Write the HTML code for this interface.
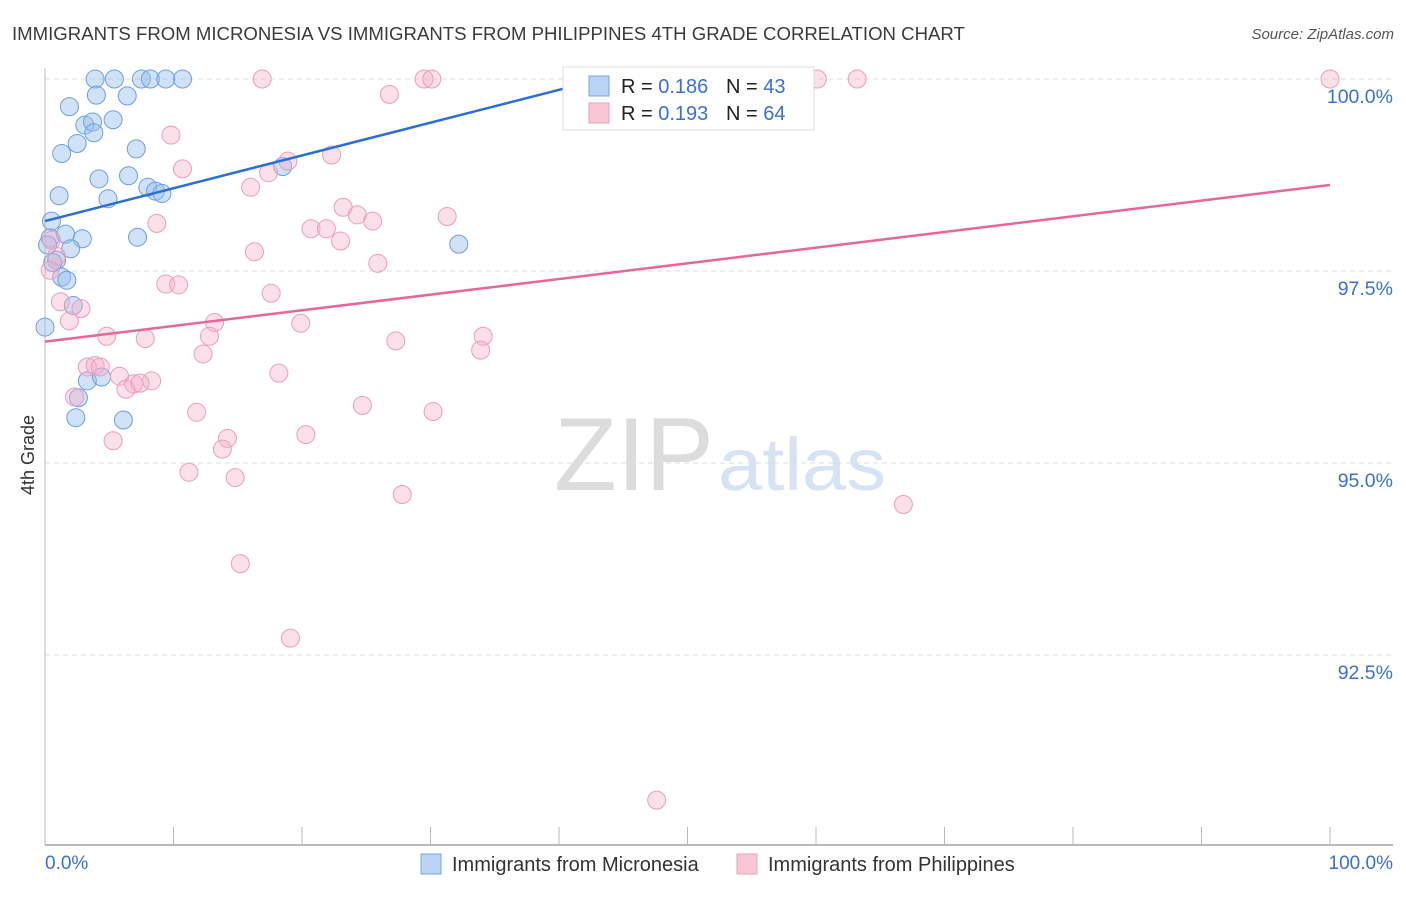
<!DOCTYPE html>
<html><head><meta charset="utf-8">
<style>
body{margin:0;background:#fff;font-family:"Liberation Sans",sans-serif;}
svg text{font-family:"Liberation Sans",sans-serif;}
</style></head>
<body>
<svg id="chart" width="1406" height="892" viewBox="0 0 1406 892" xmlns="http://www.w3.org/2000/svg">
<text x="12" y="40" font-size="18.6" fill="#3a3a3a">IMMIGRANTS FROM MICRONESIA VS IMMIGRANTS FROM PHILIPPINES 4TH GRADE CORRELATION CHART</text>
<text x="1394" y="39" font-size="15" fill="#555" text-anchor="end" font-style="italic">Source: ZipAtlas.com</text>
<g>
<text x="714" y="490" font-size="104" fill="#dcdcdc" text-anchor="end" font-family="Liberation Serif, serif" textLength="160" lengthAdjust="spacingAndGlyphs">ZIP</text>
<text x="718" y="490" font-size="74" fill="#d5e3f5" textLength="168" lengthAdjust="spacingAndGlyphs">atlas</text>
</g>
<g id="grid"></g>
<g id="axes"></g>
<g id="pts"></g>
<g id="trends"></g>
<text transform="translate(34,455) rotate(-90)" font-size="18" fill="#333" text-anchor="middle">4th Grade</text>
<g>
<rect x="563" y="67" width="251" height="63" fill="#fff" stroke="#ddd"/>
<rect x="589" y="76" width="20" height="20" fill="#b8d3f3" stroke="#7aa6e0"/>
<rect x="589" y="103" width="20" height="20" fill="#f9c6d6" stroke="#eaa0bb"/>
<text x="621" y="93" font-size="20" fill="#222">R = <tspan fill="#3a70d6">0.186</tspan></text>
<text x="726" y="93" font-size="20" fill="#222">N = <tspan fill="#3a70d6">43</tspan></text>
<text x="621" y="120" font-size="20" fill="#222">R = <tspan fill="#3a70d6">0.193</tspan></text>
<text x="726" y="120" font-size="20" fill="#222">N = <tspan fill="#3a70d6">64</tspan></text>
</g>
<g>
<rect x="421" y="854" width="20" height="20" fill="#b8d3f3" stroke="#7aa6e0"/>
<text x="452" y="871" font-size="20" fill="#333">Immigrants from Micronesia</text>
<rect x="737" y="854" width="20" height="20" fill="#f9c6d6" stroke="#eaa0bb"/>
<text x="768" y="871" font-size="20" fill="#333">Immigrants from Philippines</text>
</g>
</svg>
<script>
const blueX=[3.9,5.4,7.5,8.2,9.4,10.7,4.0,6.4,1.9,3.1,3.7,5.3,3.8,2.5,1.3,7.1,4.2,6.5,8.0,8.6,9.1,1.1,4.9,0.5,0.4,1.6,2.9,7.2,2.0,0.9,1.3,1.7,2.2,0.0,3.3,4.4,2.6,2.4,6.1,18.5,32.2,0.6,0.2];
const blueY=[100,100,100,100,100,100,99.79,99.78,99.64,99.40,99.44,99.47,99.30,99.16,99.03,99.09,98.70,98.74,98.59,98.54,98.51,98.48,98.44,98.15,97.93,97.98,97.92,97.94,97.79,97.64,97.42,97.38,97.05,96.77,96.07,96.12,95.85,95.59,95.56,98.86,97.85,97.61,97.84];
const pinkX=[16.9,29.5,30.1,60.1,63.2,100,26.8,9.8,18.9,22.3,10.7,17.4,16.0,31.3,8.7,23.2,24.3,25.5,20.7,21.9,23.0,16.3,25.9,0.5,0.9,0.4,9.4,10.4,17.6,1.2,1.9,2.8,13.2,19.9,4.8,7.8,12.8,34.1,12.3,27.3,33.9,3.3,3.9,4.3,5.8,6.9,8.3,18.2,6.3,7.4,2.3,11.8,24.7,30.2,5.3,14.2,20.3,13.8,11.2,14.8,27.8,66.8,15.2,19.1,47.6];
const pinkY=[100,100,100,100,100,100,99.80,99.27,98.93,99.01,98.83,98.78,98.59,98.21,98.12,98.33,98.23,98.15,98.05,98.05,97.89,97.75,97.60,97.90,97.69,97.51,97.33,97.32,97.21,97.10,96.85,97.01,96.83,96.82,96.65,96.62,96.65,96.65,96.42,96.59,96.47,96.25,96.27,96.25,96.13,96.03,96.07,96.17,95.96,96.04,95.86,95.66,95.75,95.67,95.29,95.32,95.37,95.18,94.88,94.81,94.59,94.46,93.69,92.72,90.61];
const blueTrend=[[0,98.15],[40.5,99.88]];
const pinkTrend=[[0,96.58],[100,98.62]];
const yTicks=[100,97.5,95,92.5];
const yTickLabels=["100.0%","97.5%","95.0%","92.5%"];
const xTicks=[0,10,20,30,40,50,60,70,80,90,100];
const xTickLabels=["0.0%","100.0%"];

const NS="http://www.w3.org/2000/svg";
const X=v=>45+v*12.85;
const Y=v=>79+(100-v)*76.8;
function mk(tag,attrs,parent){const e=document.createElementNS(NS,tag);for(const k in attrs)e.setAttribute(k,attrs[k]);parent.appendChild(e);return e;}
const grid=document.getElementById('grid'),axes=document.getElementById('axes'),pts=document.getElementById('pts'),tr=document.getElementById('trends');
yTicks.forEach((t,i)=>{
 const l=mk('line',{x1:45,x2:1393,y1:Y(t),y2:Y(t),stroke:'#ddd','stroke-dasharray':'5,4'},grid);
 
 
 const tx=mk('text',{x:1393,y:Y(t)+24,'font-size':19.5,fill:'#3a70d6','text-anchor':'end'},axes);
 tx.textContent=yTickLabels[i];
 
 
});
const yl=mk('line',{x1:45,x2:45,y1:68,y2:845,stroke:'#bbb'},axes);


const xl=mk('line',{x1:45,x2:1393,y1:845,y2:845,stroke:'#bbb','stroke-width':2},axes);


xTicks.forEach(t=>{
 const l=mk('line',{x1:X(t),x2:X(t),y1:827,y2:845,stroke:'#bbb'},axes);
 
 
});
const xt0=mk('text',{x:45,y:869,'font-size':19,fill:'#3a70d6'},axes);
xt0.textContent=xTickLabels[0];


const xt1=mk('text',{x:1393,y:869,'font-size':19,fill:'#3a70d6','text-anchor':'end'},axes);
xt1.textContent=xTickLabels[1];


blueX.forEach((v,i)=>{
 const c=mk('circle',{cx:X(v),cy:Y(blueY[i]),r:9,fill:'rgba(150,190,238,0.45)',stroke:'#6c9fe0','stroke-width':1},pts);
 
 
});
pinkX.forEach((v,i)=>{
 const c=mk('circle',{cx:X(v),cy:Y(pinkY[i]),r:9,fill:'rgba(245,175,200,0.4)',stroke:'#eb9ebb','stroke-width':1},pts);
 
 
});
const bl=mk('line',{x1:X(blueTrend[0][0]),y1:Y(blueTrend[0][1]),x2:X(blueTrend[1][0]),y2:Y(blueTrend[1][1]),stroke:'#2a6fd6','stroke-width':2.5},tr);


const pl=mk('line',{x1:X(pinkTrend[0][0]),y1:Y(pinkTrend[0][1]),x2:X(pinkTrend[1][0]),y2:Y(pinkTrend[1][1]),stroke:'#e8679a','stroke-width':2.5},tr);


</script>
</body></html>
